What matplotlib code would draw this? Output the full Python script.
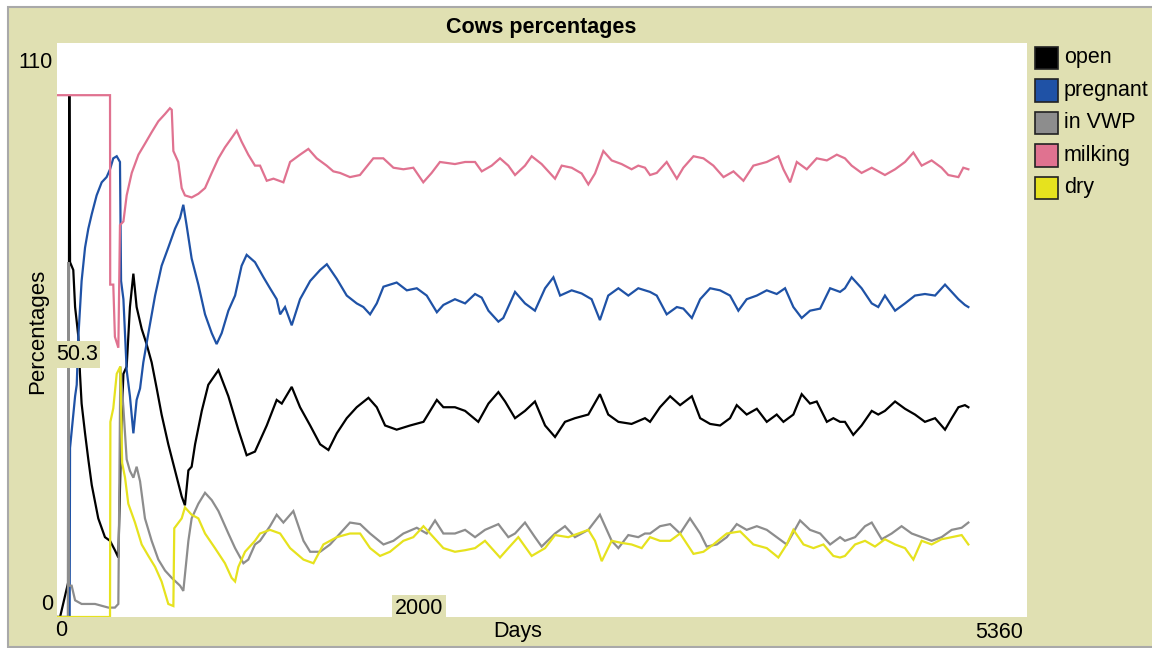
import matplotlib
matplotlib.use("Agg")
import matplotlib.pyplot as plt
from matplotlib.patches import Rectangle

plt.rcParams['font.family'] = ['Liberation Sans', 'DejaVu Sans']

W, H = 1152, 648
KHAKI = '#e0e0b2'

# Herd composition over time (% of cows in each state)
open_days = [0, 17, 63, 68, 72, 90, 100, 109, 118, 127,
             136, 155, 173, 192, 228, 265, 293, 320, 339, 357,
             367, 385, 403, 422, 440, 468, 495, 523, 551, 578,
             615, 652, 689, 707, 726, 744, 763, 800, 836, 892,
             947, 1002, 1048, 1094, 1159, 1214, 1242, 1297, 1343, 1399,
             1454, 1500, 1546, 1601, 1656, 1721, 1767, 1813, 1877, 1951,
             2025, 2099, 2135, 2199, 2255, 2328, 2384, 2439, 2476, 2531,
             2586, 2641, 2697, 2752, 2807, 2862, 2936, 3000, 3046, 3102,
             3175, 3249, 3277, 3332, 3388, 3443, 3508, 3554, 3609, 3664,
             3719, 3756, 3811, 3867, 3922, 3977, 4014, 4069, 4115, 4161,
             4198, 4254, 4290, 4327, 4354, 4400, 4446, 4502, 4538, 4575,
             4631, 4686, 4741, 4796, 4852, 4907, 4944, 4981, 5017, 5036]
open_pct = [0, 0, 6.8, 100, 68.0, 66.5, 59.4, 56.6, 53.7, 46.6,
            40.9, 35.2, 30.2, 25.3, 18.9, 15.3, 14.6, 12.8, 11.4, 38.0,
            46.6, 48.0, 59.4, 65.8, 59.4, 55.2, 52.3, 48.8, 43.8, 38.8,
            33.1, 28.1, 23.1, 21.4, 28.1, 28.8, 33.1, 39.5, 44.5, 47.3,
            42.3, 35.9, 31.0, 31.7, 36.7, 41.6, 40.9, 44.1, 40.2, 36.7,
            33.1, 32.0, 35.2, 38.1, 40.2, 42.0, 40.2, 36.7, 35.9, 36.7,
            37.4, 41.6, 40.2, 40.2, 39.5, 37.4, 40.9, 43.1, 41.3, 38.1,
            39.5, 41.3, 36.7, 34.5, 37.4, 38.1, 38.8, 42.7, 38.8, 37.4,
            37.0, 38.1, 37.4, 40.2, 42.3, 40.6, 42.3, 38.1, 37.0, 36.7,
            38.1, 40.6, 38.8, 39.9, 37.4, 38.8, 37.4, 38.8, 42.7, 40.9,
            41.3, 37.4, 38.1, 37.4, 37.4, 34.9, 36.7, 39.5, 38.8, 39.5,
            41.3, 39.9, 38.8, 37.4, 38.1, 35.9, 38.1, 40.2, 40.6, 40.2]

preg_days = [0, 70, 72, 100, 109, 118, 136, 155, 173, 192,
             219, 247, 274, 293, 311, 330, 348, 354, 367, 385,
             403, 422, 440, 459, 477, 505, 542, 578, 615, 652,
             680, 698, 716, 744, 781, 818, 855, 882, 910, 947,
             984, 1020, 1048, 1094, 1141, 1177, 1214, 1233, 1260, 1297,
             1343, 1399, 1454, 1491, 1546, 1601, 1656, 1693, 1730, 1767,
             1804, 1877, 1933, 1988, 2043, 2099, 2135, 2199, 2255, 2310,
             2347, 2384, 2439, 2466, 2531, 2586, 2641, 2697, 2743, 2780,
             2844, 2899, 2954, 3000, 3046, 3102, 3157, 3212, 3277, 3314,
             3369, 3425, 3461, 3508, 3554, 3609, 3664, 3719, 3765, 3811,
             3867, 3922, 3977, 4023, 4069, 4115, 4161, 4217, 4272, 4327,
             4354, 4391, 4446, 4502, 4538, 4575, 4631, 4686, 4741, 4796,
             4852, 4907, 4944, 4981, 5017, 5036]
preg_pct = [0, 0, 32.4, 42.3, 44.5, 53.7, 64.4, 70.8, 74.4, 77.2,
            80.8, 83.3, 84.3, 85.8, 87.9, 88.3, 87.2, 64.4, 60.9, 47.3,
            42.3, 35.2, 41.6, 43.8, 48.8, 54.4, 61.6, 67.3, 70.8, 74.4,
            76.5, 79.0, 75.1, 68.7, 63.7, 58.0, 54.4, 52.3, 54.4, 58.7,
            61.6, 67.3, 69.4, 68.0, 65.1, 63.0, 60.9, 58.0, 59.4, 55.9,
            60.9, 64.4, 66.5, 67.6, 64.8, 61.6, 60.1, 59.4, 58.0, 60.1,
            63.3, 64.1, 62.6, 63.0, 61.6, 58.4, 59.8, 60.9, 60.1, 61.9,
            61.2, 58.7, 56.6, 57.3, 62.3, 60.1, 58.7, 63.0, 65.1, 61.6,
            62.6, 62.0, 60.9, 56.9, 61.6, 63.0, 61.6, 63.0, 62.3, 61.6,
            58.0, 59.4, 59.1, 57.3, 60.9, 63.0, 62.6, 61.6, 58.7, 60.9,
            61.6, 62.6, 61.9, 63.0, 59.4, 57.3, 58.7, 59.1, 63.0, 62.3,
            63.0, 65.1, 63.0, 60.1, 59.4, 61.6, 58.7, 60.1, 61.6, 61.9,
            61.6, 63.7, 62.3, 60.9, 59.8, 59.4]

vwp_days = [0, 60, 63, 66, 81, 100, 136, 210, 284, 320,
            339, 350, 367, 385, 403, 422, 440, 459, 486, 523,
            560, 597, 634, 680, 698, 726, 744, 781, 818, 855,
            892, 947, 984, 1030, 1057, 1094, 1122, 1177, 1214, 1251,
            1306, 1362, 1399, 1454, 1509, 1564, 1619, 1675, 1730, 1804,
            1859, 1914, 1988, 2043, 2089, 2135, 2199, 2255, 2310, 2365,
            2439, 2494, 2531, 2586, 2641, 2678, 2752, 2807, 2862, 2936,
            3000, 3065, 3102, 3157, 3212, 3249, 3277, 3332, 3388, 3443,
            3498, 3554, 3590, 3646, 3701, 3756, 3811, 3867, 3922, 3977,
            4032, 4106, 4161, 4217, 4272, 4327, 4354, 4410, 4465, 4502,
            4557, 4612, 4667, 4723, 4778, 4833, 4888, 4944, 4999, 5036]
vwp_pct = [0, 0, 68.0, 6.0, 6.0, 3.2, 2.5, 2.5, 1.8, 1.8,
           2.5, 48.0, 40.0, 30.2, 28.0, 26.7, 28.8, 26.0, 18.9, 14.6,
           11.0, 8.9, 7.5, 6.0, 5.0, 14.6, 18.9, 21.7, 23.8, 22.4,
           20.3, 16.0, 13.2, 10.3, 11.0, 13.9, 14.6, 17.4, 19.6, 18.1,
           20.3, 14.6, 12.5, 12.5, 13.9, 16.0, 18.1, 17.8, 16.0, 13.9,
           14.6, 16.0, 17.1, 16.0, 18.5, 16.0, 16.0, 16.7, 15.3, 16.7,
           17.8, 15.3, 16.0, 18.1, 15.3, 13.5, 16.0, 17.4, 15.3, 16.7,
           19.6, 14.6, 13.2, 15.7, 15.3, 16.0, 16.0, 17.4, 17.8, 16.0,
           18.9, 16.0, 13.5, 13.9, 15.3, 17.8, 16.7, 17.4, 16.7, 15.3,
           13.9, 18.5, 16.7, 16.0, 13.9, 15.3, 14.6, 15.3, 17.4, 18.1,
           14.9, 16.0, 17.4, 16.0, 15.3, 14.6, 15.3, 16.7, 17.1, 18.1]

milk_days = [0, 293, 294, 311, 320, 339, 348, 367, 385, 413,
             450, 486, 523, 560, 597, 624, 634, 643, 670, 689,
             707, 744, 781, 818, 855, 892, 928, 965, 993, 1020,
             1057, 1094, 1122, 1159, 1196, 1251, 1288, 1343, 1389, 1435,
             1490, 1527, 1564, 1619, 1674, 1748, 1803, 1859, 1914, 1969,
             2024, 2070, 2116, 2199, 2255, 2310, 2347, 2402, 2448, 2494,
             2531, 2586, 2623, 2678, 2752, 2789, 2844, 2899, 2936, 2973,
             3019, 3065, 3120, 3175, 3212, 3249, 3277, 3314, 3369, 3425,
             3461, 3517, 3572, 3627, 3683, 3738, 3793, 3848, 3922, 3986,
             4014, 4051, 4088, 4143, 4198, 4254, 4309, 4354, 4391, 4446,
             4502, 4575, 4631, 4686, 4732, 4778, 4833, 4888, 4925, 4981,
             5008, 5036]
milk_pct = [100, 100, 63.7, 63.7, 53.7, 51.6, 75.1, 75.8, 80.8, 85.1,
            88.6, 90.7, 92.9, 95.0, 96.4, 97.5, 97.2, 89.3, 87.2, 82.2,
            80.8, 80.4, 81.1, 82.2, 85.1, 87.9, 90.0, 91.8, 93.2, 91.1,
            88.6, 86.5, 86.5, 83.6, 84.0, 83.3, 87.2, 88.6, 89.7, 87.9,
            86.5, 85.4, 85.1, 84.3, 84.7, 87.9, 87.9, 86.1, 85.8, 86.1,
            83.3, 85.1, 87.2, 86.8, 87.2, 87.2, 85.4, 86.5, 87.9, 86.5,
            84.7, 86.5, 88.3, 86.8, 84.0, 86.5, 86.1, 85.0, 82.9, 85.0,
            89.3, 87.5, 86.8, 85.8, 86.5, 86.1, 84.7, 85.1, 87.2, 84.0,
            86.1, 88.3, 87.9, 86.5, 84.3, 85.4, 83.6, 86.5, 87.2, 88.3,
            85.8, 83.3, 87.2, 85.8, 87.9, 87.5, 88.6, 87.9, 86.5, 85.1,
            86.1, 84.7, 85.8, 87.2, 89.0, 86.5, 87.5, 86.1, 84.7, 84.3,
            86.1, 85.8]

dry_days = [0, 293, 295, 311, 330, 350, 360, 376, 394, 431,
            468, 505, 542, 578, 615, 643, 648, 689, 707, 744,
            781, 818, 873, 928, 965, 984, 1002, 1039, 1094, 1122,
            1177, 1233, 1288, 1362, 1417, 1472, 1546, 1619, 1675, 1730,
            1785, 1840, 1914, 1969, 2025, 2080, 2135, 2199, 2255, 2310,
            2365, 2448, 2494, 2549, 2623, 2697, 2752, 2825, 2881, 2936,
            2973, 3010, 3065, 3120, 3175, 3231, 3277, 3332, 3388, 3443,
            3517, 3572, 3627, 3701, 3775, 3848, 3922, 3986, 4032, 4069,
            4125, 4180, 4235, 4290, 4327, 4354, 4410, 4465, 4520, 4575,
            4631, 4686, 4732, 4778, 4833, 4888, 4944, 4999, 5036]
dry_pct = [0, 0, 37.4, 40.0, 46.6, 48.0, 29.5, 26.7, 21.7, 18.1,
           13.9, 11.7, 9.6, 6.8, 2.5, 2.1, 17.0, 18.9, 21.0, 19.6,
           18.9, 16.0, 13.2, 10.3, 7.5, 6.8, 9.6, 12.5, 14.6, 16.0,
           16.7, 16.0, 13.2, 11.0, 10.3, 13.9, 15.3, 16.0, 16.0, 13.2,
           11.7, 12.5, 14.6, 15.3, 17.4, 15.3, 13.2, 12.5, 12.8, 13.2,
           14.6, 11.4, 13.2, 15.3, 11.7, 13.2, 15.7, 15.3, 16.0, 16.7,
           14.6, 10.7, 14.6, 14.2, 13.9, 13.2, 15.3, 14.6, 14.6, 16.0,
           12.1, 12.5, 13.9, 16.0, 16.4, 13.9, 13.2, 11.4, 13.9, 16.7,
           13.9, 13.2, 13.9, 11.7, 11.4, 11.7, 13.9, 14.6, 13.5, 14.9,
           13.9, 13.2, 11.0, 14.6, 13.9, 14.9, 15.3, 15.7, 13.9]

pen_names = ['open', 'pregnant', 'in VWP', 'milking', 'dry']
pen_colors = ['#000000', '#1f52a6', '#8d8d8d', '#e07290', '#e6e21e']

X_MAX = 5360
Y_MAX = 110
cursor_x = 2000
cursor_y = 50.3


def fx(px):
    return px / W


def fy(py):
    return 1 - py / H


fig = plt.figure(figsize=(W / 100, H / 100), dpi=100, facecolor='white')

# khaki plot widget panel with thin grey frame, kept behind the axes
fig.patches.append(Rectangle((fx(8), fy(647)), fx(1160) - fx(8), fy(7) - fy(647),
                             transform=fig.transFigure, facecolor=KHAKI,
                             edgecolor='#a9a9a9', linewidth=1.5, zorder=-5))

ax = fig.add_axes([fx(57), fy(617), fx(1027) - fx(57), fy(43) - fy(617)])
ax.set_zorder(1)
ax.set_facecolor('white')
ax.set_xlim(0, X_MAX)
ax.set_ylim(0, Y_MAX)
ax.set_xticks([])
ax.set_yticks([])
for sp in ax.spines.values():
    sp.set_visible(False)

series = [(open_days, open_pct), (preg_days, preg_pct), (vwp_days, vwp_pct),
          (milk_days, milk_pct), (dry_days, dry_pct)]
for (d, v), c in zip(series, pen_colors):
    ax.plot(d, v, color=c, linewidth=1.6, solid_joinstyle='miter')

fs = 15.5
fig.text(fx(541), fy(27), 'Cows percentages', ha='center', va='center',
         fontsize=15.5, fontweight='bold')
fig.text(fx(53), fy(63), '110', ha='right', va='center', fontsize=fs)
fig.text(fx(53), fy(605), '0', ha='right', va='center', fontsize=fs)
fig.text(fx(55), fy(631), '0', ha='left', va='center', fontsize=fs)
fig.text(fx(1023), fy(632), str(X_MAX), ha='right', va='center', fontsize=fs)
fig.text(fx(518), fy(632), 'Days', ha='center', va='center', fontsize=fs)
fig.text(fx(38), fy(331), 'Percentages', ha='center', va='center',
         rotation=90, fontsize=16)

# cursor readouts
ax.annotate('50.3', xy=(0, cursor_y), xycoords=('axes fraction', 'data'),
            xytext=(-1, 0), textcoords='offset pixels', ha='left', va='center',
            fontsize=fs, bbox=dict(boxstyle='square,pad=0.12', fc=KHAKI, ec='none'),
            annotation_clip=False, zorder=5)
ax.annotate(str(cursor_x), xy=(cursor_x, 0), xycoords='data',
            xytext=(0, 9), textcoords='offset pixels', ha='center', va='center',
            fontsize=fs, bbox=dict(boxstyle='square,pad=0.12', fc=KHAKI, ec='none'),
            annotation_clip=False, zorder=5)

# legend swatches
for i, (name, c) in enumerate(zip(pen_names, pen_colors)):
    cy = 58 + i * 32.5
    fig.patches.append(Rectangle((fx(1035), fy(cy + 11)), fx(23), fy(0) - fy(22),
                                 transform=fig.transFigure, facecolor=c,
                                 edgecolor='#222222', linewidth=1.2, zorder=2))
    fig.text(fx(1064), fy(cy), name, ha='left', va='center', fontsize=fs)

fig.savefig('out.png', dpi=100, facecolor=fig.get_facecolor())
